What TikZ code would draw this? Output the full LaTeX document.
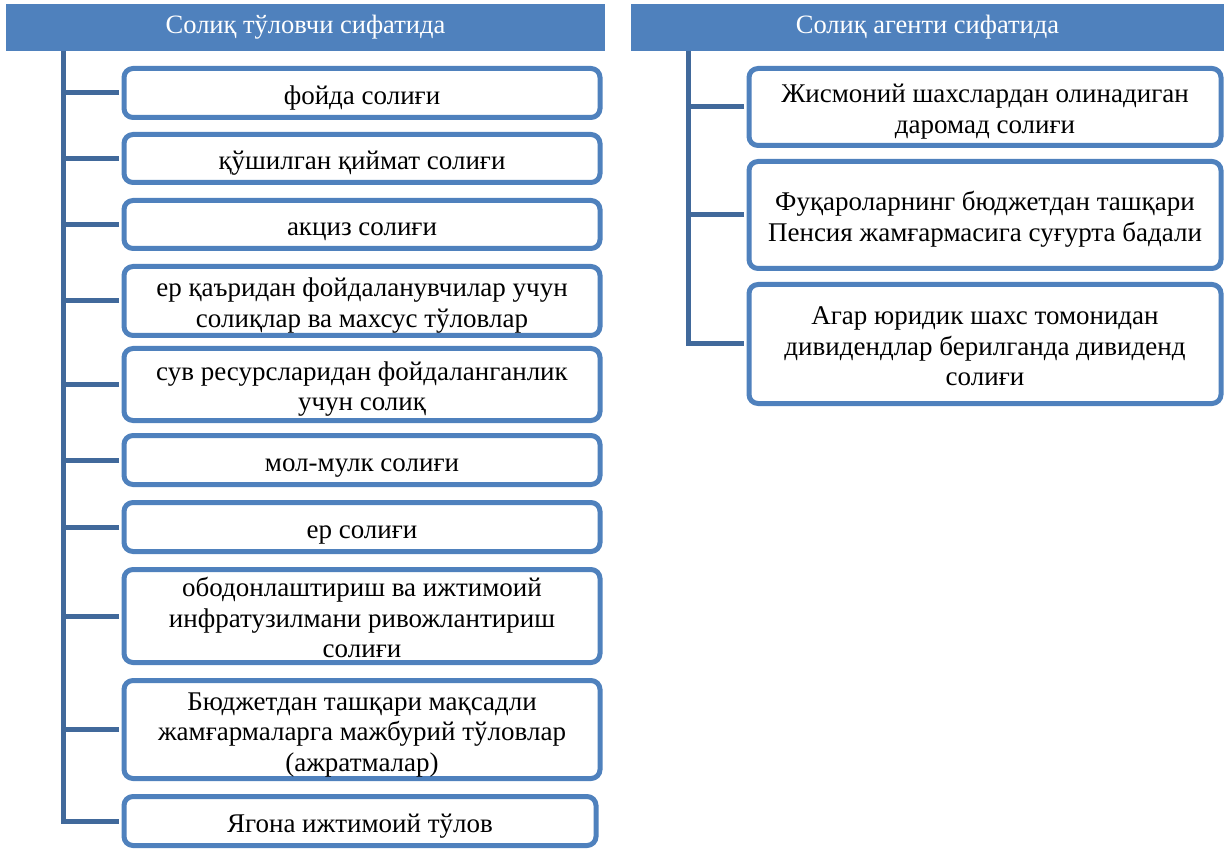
\documentclass[tikz,border=0pt]{standalone}
\usepackage{fontspec}
\setmainfont{Liberation Serif}
\definecolor{hblue}{HTML}{4F81BD}
\definecolor{sblue}{HTML}{41699B}
\newcommand{\boxlines}[1]{\raisebox{-5pt}[\height][\depth]{\begin{tabular}{@{}c@{}}#1\end{tabular}}}

\begin{document}
\begin{tikzpicture}[x=1pt, y=-1pt, thick,
  head node/.style={rectangle,fill=hblue,text=white,inner sep=0pt,minimum height=47pt,font=\fontsize{26.5}{30}\selectfont},
  main node/.style={rectangle,draw=hblue,line width=5pt,rounded corners=9pt,fill=white,inner sep=0pt,font=\fontsize{27}{30.5}\selectfont},
  link/.style={draw=sblue,line width=5pt}]

      \useasboundingbox (0,0) rectangle (1224,850);

      \node[head node, minimum width=599pt] (h1) at (305.5,27.5) {Солиқ тўловчи сифатида};
      \node[head node, minimum width=593pt] (h2) at (927.5,27.5) {Солиқ агенти сифатида};

      \node[main node, minimum width=476pt, minimum height=49pt] (l1) at (362,93) {\boxlines{фойда солиғи}};
      \node[main node, minimum width=476pt, minimum height=48pt] (l2) at (362,158.5) {\boxlines{қўшилган қиймат солиғи}};
      \node[main node, minimum width=476pt, minimum height=48pt] (l3) at (362,224.5) {\boxlines{акциз солиғи}};
      \node[main node, minimum width=476pt, minimum height=69pt] (l4) at (362,301) {\boxlines{ер қаъридан фойдаланувчилар учун\\солиқлар ва махсус тўловлар}};
      \node[main node, minimum width=476pt, minimum height=72pt] (l5) at (362,384.5) {\boxlines{сув ресурсларидан фойдаланганлик\\учун солиқ}};
      \node[main node, minimum width=476pt, minimum height=49pt] (l6) at (362,460) {\boxlines{мол-мулк солиғи}};
      \node[main node, minimum width=476pt, minimum height=49pt] (l7) at (362,527) {\boxlines{ер солиғи}};
      \node[main node, minimum width=476pt, minimum height=93pt] (l8) at (362,616) {\boxlines{ободонлаштириш ва ижтимоий\\инфратузилмани ривожлантириш\\солиғи}};
      \node[main node, minimum width=476pt, minimum height=98pt] (l9) at (362,729.5) {\boxlines{Бюджетдан ташқари мақсадли\\жамғармаларга мажбурий тўловлар\\(ажратмалар)}};
      \node[main node, minimum width=472pt, minimum height=49pt] (l10) at (360,821) {\boxlines{Ягона ижтимоий тўлов}};

      \node[main node, minimum width=472pt, minimum height=77pt] (r1) at (985,107) {\boxlines{Жисмоний шахслардан олинадиган\\даромад солиғи}};
      \node[main node, minimum width=472pt, minimum height=107pt] (r2) at (985,215) {\boxlines{Фуқароларнинг бюджетдан ташқари\\Пенсия жамғармасига суғурта бадали}};
      \node[main node, minimum width=472pt, minimum height=119pt] (r3) at (985,344) {\boxlines{Агар юридик шахс томонидан\\дивидендлар берилганда дивиденд\\солиғи}};

      \coordinate (s1) at (63,51);
      \coordinate (s2) at (688,51);

      \draw[link, shorten >=2.5pt] (s1) |- (l10.west);
      \foreach \n in {1,...,9}
        \draw[link, shorten <=2.5pt] (l\n.west) -- (l\n.west -| s1);

      \draw[link, shorten >=2.5pt] (s2) |- (r3.west);
      \foreach \n in {1,2}
        \draw[link, shorten <=2.5pt] (r\n.west) -- (r\n.west -| s2);

\end{tikzpicture}
\end{document}
